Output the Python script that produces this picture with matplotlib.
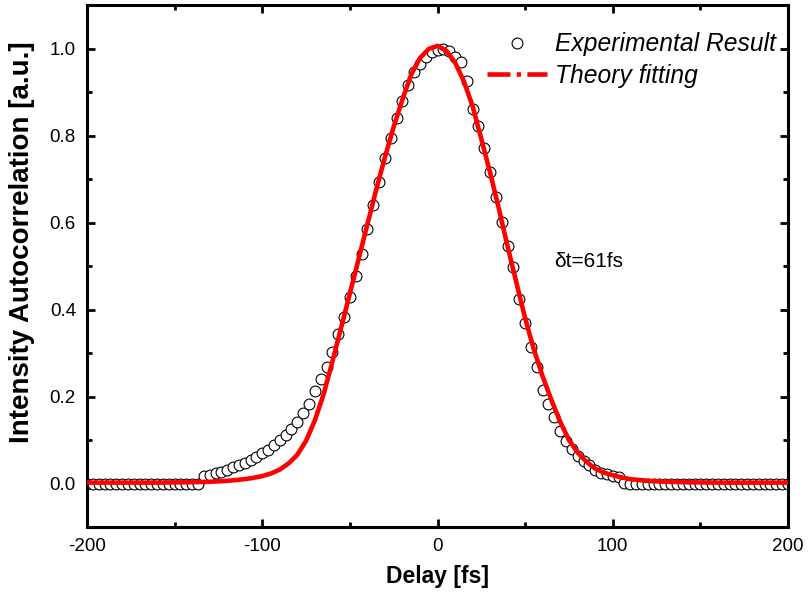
import numpy as np
import matplotlib
matplotlib.use("Agg")
import matplotlib.pyplot as plt
from matplotlib.lines import Line2D
from matplotlib.ticker import MultipleLocator

plt.rcParams['font.family'] = ['Liberation Sans', 'DejaVu Sans']

# Experimental data: uniform delay sampling from -200 to 200 fs (121 points)
delay_start, delay_stop, n_points = -200.0, 200.0, 121
exp_delay = np.linspace(delay_start, delay_stop, n_points)
exp_signal = [
    0.000, 0.000, 0.000, 0.000, 0.000, 0.000, 0.000, 0.000, 0.000, 0.000,
    0.000, 0.000, 0.000, 0.000, 0.000, 0.000, 0.000, 0.000, 0.000, 0.000,
    0.017, 0.020, 0.023, 0.026, 0.031, 0.037, 0.043, 0.048, 0.054, 0.062,
    0.069, 0.078, 0.088, 0.101, 0.112, 0.125, 0.141, 0.162, 0.182, 0.212,
    0.240, 0.268, 0.303, 0.343, 0.382, 0.428, 0.478, 0.528, 0.585, 0.640,
    0.693, 0.749, 0.794, 0.840, 0.880, 0.917, 0.946, 0.965, 0.981, 0.992,
    0.997, 0.998, 0.994, 0.981, 0.968, 0.925, 0.862, 0.822, 0.771, 0.715,
    0.659, 0.601, 0.547, 0.497, 0.423, 0.370, 0.313, 0.267, 0.215, 0.182,
    0.152, 0.121, 0.097, 0.080, 0.063, 0.052, 0.042, 0.032, 0.025, 0.021,
    0.018, 0.016, 0.002, 0.000, 0.000, 0.000, 0.000, 0.000, 0.000, 0.000,
    0.000, 0.000, 0.000, 0.000, 0.000, 0.000, 0.000, 0.000, 0.000, 0.000,
    0.000, 0.000, 0.000, 0.000, 0.000, 0.000, 0.000, 0.000, 0.000, 0.000,
    0.000,
]

# Theory fitting curve
fit_delay = [-200, -180, -160, -140, -130, -120, -115, -110, -105, -100,
             -95, -90, -85, -80, -75, -70, -65, -60, -55, -50,
             -45, -40, -35, -30, -25, -20, -15, -10, -5, 0,
             5, 10, 15, 20, 25, 30, 35, 40, 45, 50,
             55, 60, 65, 70, 75, 80, 85, 90, 95, 100,
             105, 110, 115, 120, 130, 140, 160, 180, 200]
fit_signal = [0.002, 0.002, 0.002, 0.003, 0.004, 0.006, 0.008, 0.010, 0.013, 0.017,
              0.023, 0.032, 0.046, 0.066, 0.098, 0.145, 0.205, 0.280, 0.358, 0.437,
              0.516, 0.596, 0.675, 0.750, 0.820, 0.883, 0.940, 0.978, 0.999, 1.006,
              0.995, 0.968, 0.925, 0.868, 0.792, 0.715, 0.632, 0.545, 0.462, 0.380,
              0.308, 0.246, 0.192, 0.142, 0.100, 0.071, 0.050, 0.034, 0.025, 0.019,
              0.014, 0.010, 0.008, 0.006, 0.004, 0.003, 0.002, 0.002, 0.002]

x_ticks = [-200, -100, 0, 100, 200]
y_ticks = [0.0, 0.2, 0.4, 0.6, 0.8, 1.0]
annotation = "δt=61fs"

fig = plt.figure(figsize=(8.09, 6.06), dpi=100)
ax = fig.add_axes([87 / 809, 1 - 527 / 606, 701 / 809, 522 / 606])

ax.plot(exp_delay, exp_signal, linestyle='none', marker='o', markersize=7.8,
        markerfacecolor='white', markeredgecolor='black', markeredgewidth=0.8,
        zorder=2)
ax.plot(fit_delay, fit_signal, color='#ff0000', linewidth=3.3, zorder=3,
        solid_joinstyle='round')

ax.set_xlim(-200, 200)
ax.set_ylim(-0.1, 1.1)
ax.set_xticks(x_ticks)
ax.set_xticklabels([str(t) for t in x_ticks])
ax.set_yticks(y_ticks)
ax.set_yticklabels([f"{t:.1f}" for t in y_ticks])
ax.xaxis.set_minor_locator(MultipleLocator(50))
ax.yaxis.set_minor_locator(MultipleLocator(0.1))
ax.tick_params(which='both', direction='in', top=True, right=True, width=2)
ax.tick_params(which='major', length=6, labelsize=13.5, pad=8)
ax.tick_params(which='minor', length=3.5)
for s in ax.spines.values():
    s.set_linewidth(2.2)

ax.set_xlabel("Delay [fs]", fontsize=16.5, fontweight='bold', labelpad=7)
ax.set_ylabel("Intensity Autocorrelation [a.u.]", fontsize=20, fontweight='bold')
ax.yaxis.set_label_coords(-0.0745, 0.546)

ax.text(66.5, 0.51, annotation, fontsize=15, va='center', ha='left')

h_exp = Line2D([], [], linestyle='none', marker='o', markersize=7.8,
               markerfacecolor='white', markeredgecolor='black', markeredgewidth=0.8)
h_fit = Line2D([], [], color='#ff0000', linewidth=3.3,
               linestyle=(0, (5, 1.4, 0.9, 1.4)))
leg = ax.legend([h_exp, h_fit], ["Experimental Result", "Theory fitting"],
                loc='upper right', bbox_to_anchor=(0.983, 0.948), frameon=False,
                prop={'style': 'italic', 'size': 17.7}, handlelength=2.45,
                handletextpad=0.33, labelspacing=0.3, borderaxespad=0.0,
                borderpad=0.0, numpoints=1)

fig.savefig("out.png", dpi=100)
